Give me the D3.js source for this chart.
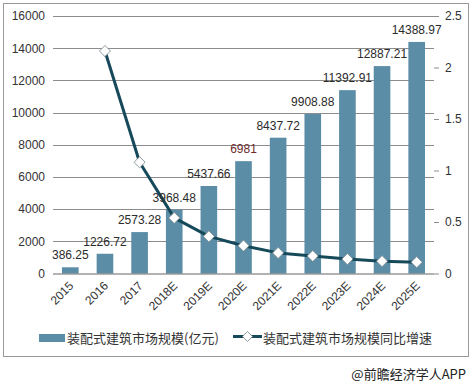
<!DOCTYPE html>
<html><head><meta charset="utf-8">
<script src="https://cdn.jsdelivr.net/npm/d3@7/dist/d3.min.js"></script>
<style>
html,body{margin:0;padding:0;background:#fff;}
svg{display:block;font-family:"Liberation Sans",Arial,"Noto Sans CJK SC",sans-serif;}
</style></head>
<body>
<svg id="c" width="472" height="384"></svg>
<script>
const categories = ["2015","2016","2017","2018E","2019E","2020E","2021E","2022E","2023E","2024E","2025E"];
const marketSize = [386.25,1226.72,2573.28,3968.48,5437.66,6981,8437.72,9908.88,11392.91,12887.21,14388.97];
const sizeLabels = ["386.25","1226.72","2573.28","3968.48","5437.66","6981","8437.72","9908.88","11392.91","12887.21","14388.97"];
const growthCats = ["2016","2017","2018E","2019E","2020E","2021E","2022E","2023E","2024E","2025E"];
const growth = [2.16,1.08,0.54,0.36,0.27,0.20,0.17,0.14,0.12,0.11];
const leftTicks = [0,2000,4000,6000,8000,10000,12000,14000,16000];
const rightTicks = [0,0.5,1,1.5,2,2.5];
const seriesNames = ["装配式建筑市场规模(亿元)","装配式建筑市场规模同比增速"];
const source = "@前瞻经济学人APP";

const svg = d3.select("#c");
const L = 53, R = 434, T = 16, B = 273.5;
const barColor = "#5b8da6", lineColor = "#16495a", textColor = "#333";

svg.append("rect").attr("x",3.5).attr("y",3.5).attr("width",465).attr("height",353)
  .attr("fill","#fff").attr("stroke","#9a9a9a").attr("stroke-width",1);

const x = d3.scaleBand().domain(categories).range([L,R]).paddingInner(0.52).paddingOuter(0.26);
const y = d3.scaleLinear().domain([0,16000]).range([B,T]);
const y2 = d3.scaleLinear().domain([0,2.5]).range([B,T]);

// gridlines
svg.append("g").selectAll("line").data(leftTicks.slice(1)).join("line")
  .attr("x1",L).attr("x2",R).attr("y1",d=>Math.round(y(d))+0.5).attr("y2",d=>Math.round(y(d))+0.5)
  .attr("stroke","#8c8c8c").attr("stroke-width",1);

// left axis
const gl = svg.append("g").attr("transform",`translate(${L},0)`)
  .call(d3.axisLeft(y).tickValues(leftTicks).tickSize(0).tickPadding(8).tickFormat(d3.format("d")));
gl.select(".domain").remove();
gl.selectAll("text").attr("font-size",12).attr("fill",textColor).attr("font-family","Liberation Sans, Arial, sans-serif");

// right axis
const gr = svg.append("g").attr("transform",`translate(${R},0)`)
  .call(d3.axisRight(y2).tickValues(rightTicks).tickSize(5).tickPadding(6).tickFormat(d=>String(d)));
gr.select(".domain").remove();
gr.selectAll("line").attr("stroke","#8c8c8c");
gr.selectAll("text").attr("font-size",12).attr("fill",textColor).attr("font-family","Liberation Sans, Arial, sans-serif");

// bars
svg.append("g").selectAll("rect").data(categories).join("rect")
  .attr("x",(d)=>x(d)).attr("width",x.bandwidth())
  .attr("y",(d,i)=>y(marketSize[i])).attr("height",(d,i)=>B-y(marketSize[i]))
  .attr("fill",barColor);

// bottom axis
const gx = svg.append("g").attr("transform",`translate(0,${B})`)
  .call(d3.axisBottom(x).tickSize(0).tickPadding(0));
gx.select(".domain").attr("stroke","#666").attr("d",`M${L},0.5H${R}`);
gx.selectAll("text").attr("font-size",12).attr("fill",textColor)
  .attr("font-family","Liberation Sans, Arial, sans-serif")
  .attr("text-anchor","end").attr("dy",0)
  .attr("transform","translate(4,13) rotate(-45)");

// line
const xc = d => x(d) + x.bandwidth()/2;
const line = d3.line().x((d,i)=>xc(growthCats[i])).y(d=>y2(d));
svg.append("path").datum(growth).attr("d",line).attr("fill","none")
  .attr("stroke",lineColor).attr("stroke-width",3).attr("stroke-linejoin","round");
svg.append("g").selectAll("path").data(growth).join("path")
  .attr("d",d3.symbol().type(d3.symbolSquare).size(62))
  .attr("transform",(d,i)=>`translate(${xc(growthCats[i])},${y2(d)}) rotate(45)`)
  .attr("fill","#fff").attr("stroke","#7a8a90").attr("stroke-width",0.8);

// data labels
svg.append("g").selectAll("text").data(categories).join("text")
  .attr("x",d=>xc(d)).attr("y",(d,i)=>y(marketSize[i])-8)
  .attr("text-anchor","middle").attr("font-size",12)
  .attr("font-family","Liberation Sans, Arial, sans-serif")
  .attr("fill",(d,i)=> i===5 ? "#6b2a2a" : "#2b2b2b")
  .text((d,i)=>sizeLabels[i]);

// legend
const lg = svg.append("g");
lg.append("rect").attr("x",39).attr("y",334).attr("width",26).attr("height",8).attr("fill",barColor);
lg.append("text").attr("x",67).attr("y",342.5).attr("font-size",13).attr("fill",textColor)
  .attr("font-family","Noto Sans CJK SC, sans-serif").text(seriesNames[0]);
lg.append("line").attr("x1",233).attr("x2",262).attr("y1",336.5).attr("y2",336.5)
  .attr("stroke",lineColor).attr("stroke-width",3);
lg.append("path").attr("d",d3.symbol().type(d3.symbolSquare).size(50))
  .attr("transform","translate(247.5,336.5) rotate(45)")
  .attr("fill","#fff").attr("stroke","#7a8a90").attr("stroke-width",0.8);
lg.append("text").attr("x",263).attr("y",342.5).attr("font-size",13).attr("fill",textColor)
  .attr("font-family","Noto Sans CJK SC, sans-serif").text(seriesNames[1]);

// source
svg.append("text").attr("x",466).attr("y",379).attr("text-anchor","end").attr("font-size",13)
  .attr("fill","#222").attr("font-family","Noto Sans CJK SC, sans-serif").text(source);
</script>
</body></html>
